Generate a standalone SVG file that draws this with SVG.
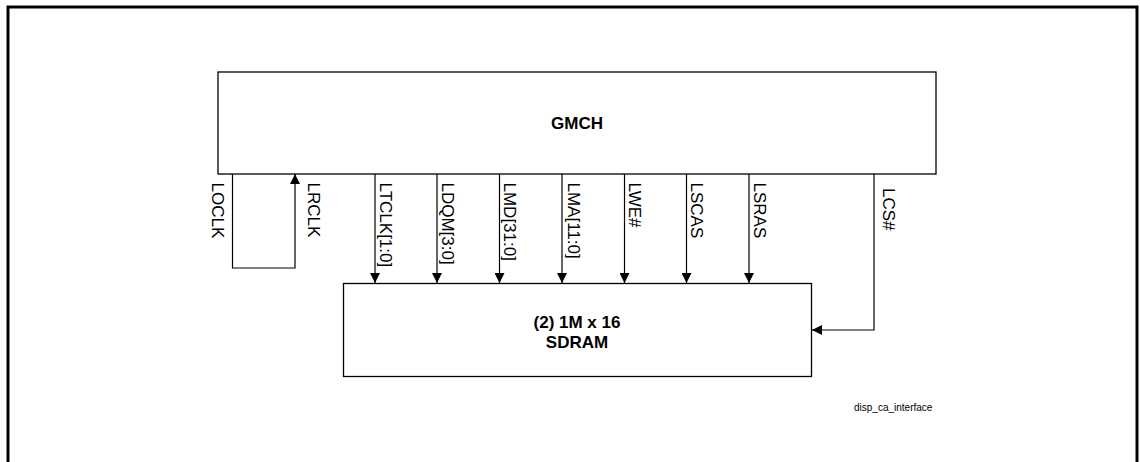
<svg xmlns="http://www.w3.org/2000/svg" width="1140" height="462" viewBox="0 0 1140 462">
<defs>
<style>
.box{fill:#fff;stroke:#000;stroke-width:1.3}
.ln{fill:none;stroke:#000;stroke-width:1.2}
.t{font-family:"Liberation Sans",Arial,sans-serif;font-size:17px;fill:#000}
.b{font-family:"Liberation Sans",Arial,sans-serif;font-size:17px;font-weight:bold;fill:#000;text-anchor:middle}
.s{font-family:"Liberation Sans",Arial,sans-serif;font-size:10px;fill:#000}
</style>
<marker id="ah" viewBox="0 0 10 10" refX="10" refY="5" markerWidth="10" markerHeight="10" markerUnits="userSpaceOnUse" orient="auto">
<path d="M0,0 L10,5 L0,10 Z" fill="#000"/>
</marker>
</defs>
<rect width="1140" height="462" fill="#fff"/>
<path d="M8,470 V7 H1137 V470" fill="none" stroke="#000" stroke-width="3"/>
<g id="gmch">
<rect class="box" x="218" y="72" width="718" height="102"/>
<text class="b" x="577" y="128.5">GMCH</text>
</g>
<g id="sdram">
<rect class="box" x="343.5" y="283.5" width="468" height="93"/>
<text class="b" x="577" y="327.5">(2) 1M x 16</text>
<text class="b" x="577" y="347.5">SDRAM</text>
</g>
<g id="connectors">
<path class="ln" d="M232.5,174 V268 H295 V174" marker-end="url(#ah)"/>
<path class="ln" d="M375,174 V283" marker-end="url(#ah)"/>
<path class="ln" d="M437,174 V283" marker-end="url(#ah)"/>
<path class="ln" d="M499.5,174 V283" marker-end="url(#ah)"/>
<path class="ln" d="M562,174 V283" marker-end="url(#ah)"/>
<path class="ln" d="M624.5,174 V283" marker-end="url(#ah)"/>
<path class="ln" d="M686.5,174 V283" marker-end="url(#ah)"/>
<path class="ln" d="M749,174 V283" marker-end="url(#ah)"/>
<path class="ln" d="M874,174 V330 H812" marker-end="url(#ah)"/>
</g>
<g id="labels">
<text class="t" transform="translate(211.5,182.5) rotate(90)">LOCLK</text>
<text class="t" transform="translate(307.5,182.5) rotate(90)">LRCLK</text>
<text class="t" transform="translate(380,182.5) rotate(90)">LTCLK[1:0]</text>
<text class="t" transform="translate(442.3,182.5) rotate(90)">LDQM[3:0]</text>
<text class="t" transform="translate(504,182.5) rotate(90)">LMD[31:0]</text>
<text class="t" transform="translate(567.5,182.5) rotate(90)">LMA[11:0]</text>
<text class="t" transform="translate(629,182.5) rotate(90)">LWE#</text>
<text class="t" transform="translate(691,182.5) rotate(90)">LSCAS</text>
<text class="t" transform="translate(754,182.5) rotate(90)">LSRAS</text>
<text class="t" transform="translate(883.3,188) rotate(90)">LCS#</text>
<text class="s" x="854" y="411">disp_ca_interface</text>
</g>
</svg>
